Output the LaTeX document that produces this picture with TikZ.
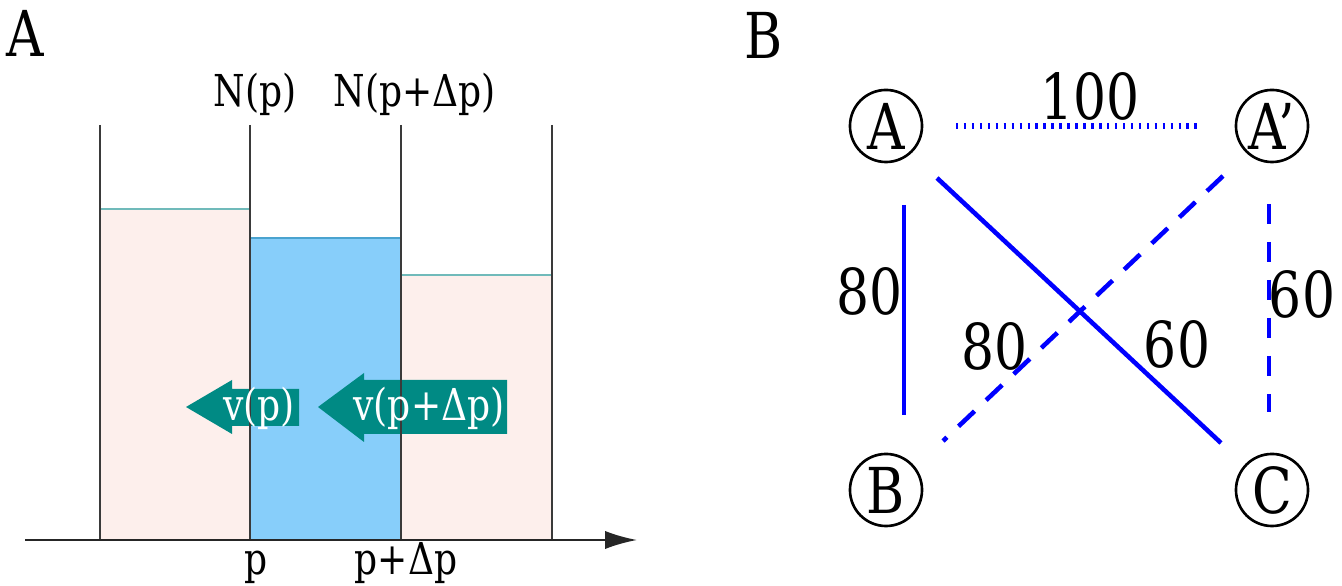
\documentclass[tikz,border=0pt]{standalone}
\usepackage{fontspec}
\setmainfont{DejaVu Serif}[FakeStretch=0.82]
\usetikzlibrary{arrows.meta,calc}
\definecolor{pinkfill}{HTML}{FDEFEC}
\definecolor{bluefill}{HTML}{87CEFA}
\definecolor{tealarrow}{HTML}{008A84}
\definecolor{pinktop}{HTML}{70BABA}
\definecolor{bluetop}{HTML}{4AA3CF}
\definecolor{gridline}{HTML}{3A3A3A}
\begin{document}
\begin{tikzpicture}[x=0.01cm,y=-0.01cm,
  biglabel/.style={font=\fontsize{18}{20}\selectfont, inner sep=0, anchor=base},
  smalllabel/.style={font=\fontsize{12.5}{14}\selectfont, inner sep=0, anchor=base},
  arrowtext/.style={font=\fontsize{12.5}{14}\selectfont, inner sep=0, text=white},
  vnode/.style={circle, draw, line width=0.75pt, minimum size=0.72cm, inner sep=0, font=\fontsize{18}{20}\selectfont},
  link/.style={draw=blue, line width=1.3pt},
  divider/.style={draw=gridline, line width=0.45pt},
  flowarrow/.style={fill=tealarrow, draw=none}]
\useasboundingbox (0,0) rectangle (1342,586);

% ---------- Panel A ----------
\node[biglabel, anchor=base west] (labA) at (6,57) {A};
\fill[pinkfill] (100,209) rectangle (250,540);
\fill[bluefill] (250,238) rectangle (401,540);
\fill[pinkfill] (401,275) rectangle (552,540);
\draw[pinktop, line width=0.5pt] (100,209) -- (250,209);
\draw[bluetop, line width=0.6pt] (250,238) -- (401,238);
\draw[pinktop, line width=0.5pt] (401,275) -- (552,275);

% flow arrows
\path[flowarrow] (186,407) -- (232,380) -- (232,389) -- (299,389) -- (299,426) -- (232,426) -- (232,434) -- cycle;
\path[flowarrow] (318,407) -- (364,373) -- (364,380) -- (507,380) -- (507,434) -- (364,434) -- (364,442) -- cycle;

% dividers
\foreach \xx in {100,250,401,552}
  \draw[divider] (\xx,125) -- (\xx,540);

% axis
\coordinate (axL) at (25,540);
\coordinate (axR) at (637,540);
\draw[black!85, line width=0.6pt, -{Latex[length=9.1pt,width=5.2pt]}] (axL) -- (axR);

\node[arrowtext] (vp) at (259,408) {v(p)};
\node[arrowtext] (vpdp) at (429,408) {v(p+Δp)};

\node[smalllabel] (Np) at (255,107) {N(p)};
\node[smalllabel] (Npdp) at (415,107) {N(p+Δp)};
\node[smalllabel] (p) at (256,575) {p};
\node[smalllabel] (pdp) at (406,575) {p+Δp};

% ---------- Panel B ----------
\node[biglabel, anchor=base west] (labB) at (744,59) {B};
\node[vnode] (A) at (886,126) {A};
\node[vnode] (Ap) at (1272,126) {A’};
\node[vnode] (B) at (886,490) {B};
\node[vnode] (C) at (1272,490) {C};

\coordinate (aap1) at ($(A)+(70,0)$);
\coordinate (aap2) at ($(Ap)+(-73,0)$);
\coordinate (ab1) at ($(A)+(18,79)$);
\coordinate (ab2) at ($(B)+(18,-75)$);
\coordinate (ac1) at ($(A)+(51,52)$);
\coordinate (ac2) at ($(C)+(-51,-47)$);
\coordinate (apb1) at ($(Ap)+(-49,50)$);
\coordinate (apb2) at ($(B)+(57,-49)$);
\coordinate (apc1) at ($(Ap)+(-3,78)$);
\coordinate (apc2) at ($(C)+(-3,-78)$);

\draw[link, line width=1.5pt, dash pattern=on 0.7pt off 1.56pt] (aap1) -- (aap2);
\draw[link] (ab1) -- (ab2);
\draw[link] (ac1) -- (ac2);
\draw[link, dash pattern=on 6.26pt off 4.55pt] (apb1) -- (apb2);
\draw[link, dash pattern=on 5.7pt off 5.1pt] (apc1) -- (apc2);

\node[biglabel] (w100) at (1090,120) {100};
\node[biglabel] (w80a) at (870,315) {80};
\node[biglabel] (w60a) at (1302,318) {60};
\node[biglabel] (w80b) at (995,370) {80};
\node[biglabel] (w60b) at (1177,368) {60};
\end{tikzpicture}
\end{document}
